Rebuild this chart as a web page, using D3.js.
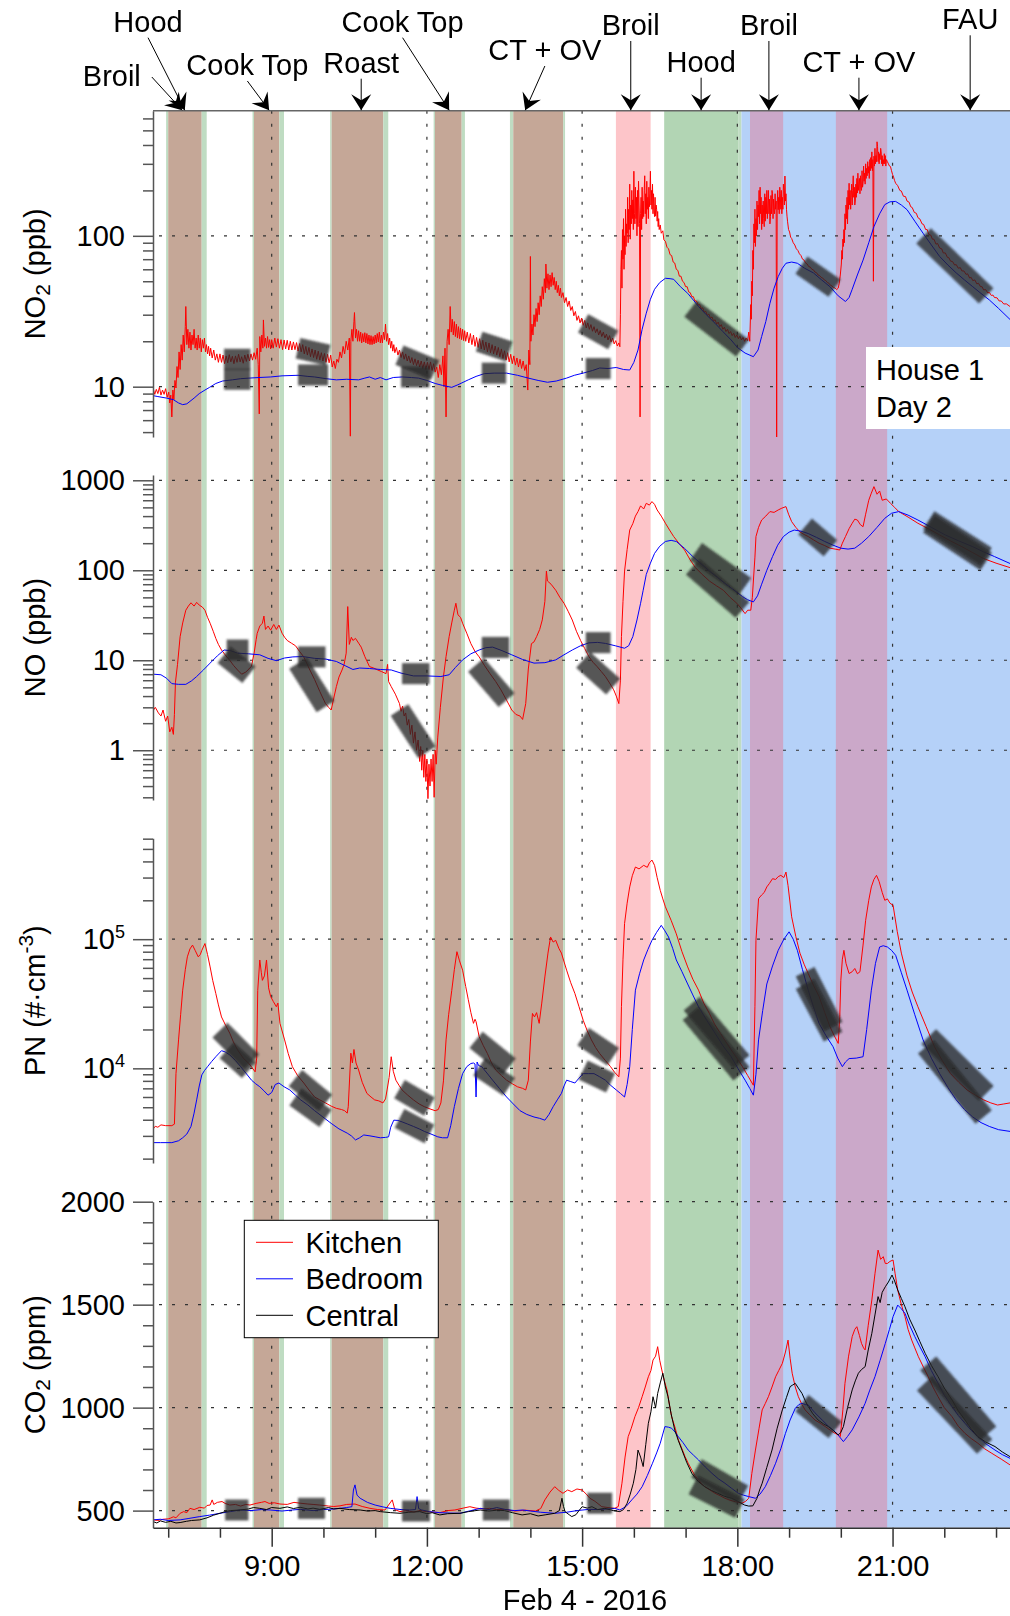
<!DOCTYPE html>
<html><head><meta charset="utf-8">
<script src="https://cdnjs.cloudflare.com/ajax/libs/d3/7.8.5/d3.min.js"></script>
<style>
body{margin:0;background:#fff}
svg{display:block}
text{font-family:"Liberation Sans",Arial,Helvetica,sans-serif;fill:#000}
</style></head>
<body><svg id="c" width="1010" height="1616"></svg>
<script>
// ---------------- DATA (time in decimal hours, Feb 4 2016) ----------------
const xDomain = [6.706, 23.27];
const majorHours = [9, 12, 15, 18, 21];
const minorHours = [7, 8, 10, 11, 13, 14, 16, 17, 19, 20, 22, 23];
const xTitle = "Feb 4 - 2016";

const no2Range = [4.64, 675];
const noRange = [0.28, 1145];
const pnRange = [1850, 6.04e5];
const co2Range = [417, 2000];
const co2Major = [500, 1000, 1500, 2000];

const seriesNames = ["Kitchen", "Bedroom", "Central"];

// background event bands: [start, end, kind]
const bands = [
 [6.96,7.0,"edge"],[7.0,7.647,"brown"],[7.647,7.744,"edge"],
 [8.63,8.658,"edge"],[8.658,9.147,"brown"],[9.147,9.238,"edge"],
 [10.13,10.159,"edge"],[10.159,11.157,"brown"],[11.157,11.253,"edge"],
 [12.13,12.156,"edge"],[12.156,12.672,"brown"],[12.672,12.735,"edge"],
 [13.605,13.669,"edge"],[13.669,14.635,"brown"],[14.635,14.67,"edge"],
 [15.653,16.324,"pink"],
 [16.586,18.016,"green"],
 [18.016,18.08,"edge"],
 [18.08,23.4,"blue"],
 [18.245,18.886,"purple"],
 [19.904,20.896,"purple"]
];

// event annotations
const annLabels = ["Broil","Hood","Cook Top","Roast","Cook Top","CT + OV","Broil","Hood","Broil","CT + OV","FAU"];
const annTargets = [7.27,7.32,8.95,10.73,12.43,13.9,15.94,17.3,18.61,20.35,22.5];

// NO2 (ppb)
const no2Kitchen = [[6.65,9.8],[6.68,9.1],[6.71,9.7],[6.74,8.9],[6.77,9.6],[6.8,9.0],[6.83,9.9],[6.86,8.8],[6.89,9.5],[6.92,8.9],[6.95,9.7],[6.98,8.5],[7.01,9.2],[7.03,7.8],[7.05,8.8],[7.07,6.3],[7.09,9.5],[7.11,8.2],[7.13,11],[7.15,9.8],[7.17,13.6],[7.19,11.5],[7.21,17],[7.23,13],[7.25,19],[7.27,15],[7.29,22],[7.31,17],[7.33,25],[7.34,34],[7.36,19],[7.38,24],[7.4,18],[7.42,23],[7.44,17.5],[7.46,22],[7.48,19],[7.5,24],[7.52,18],[7.54,21],[7.56,17.5],[7.58,22],[7.6,18],[7.62,21],[7.64,17],[7.66,20.5],[7.68,18],[7.7,21],[7.72,17],[7.74,19],[7.76,16.5],[7.78,18.5],[7.8,16],[7.82,18],[7.85,15.5],[7.88,17.5],[7.91,15],[7.94,16.5],[7.97,14.5],[8.0,16.5],[8.03,14.5],[8.06,16.2],[8.09,14.2],[8.12,16],[8.15,14.4],[8.18,16.3],[8.21,14.6],[8.24,15.9],[8.27,14.2],[8.3,16],[8.33,14.5],[8.36,16.4],[8.39,14.6],[8.42,15.8],[8.45,14.3],[8.48,16.2],[8.51,14.7],[8.54,16.4],[8.57,14.8],[8.6,16.5],[8.63,15],[8.66,16.8],[8.69,15.2],[8.72,18],[8.74,14],[8.76,6.6],[8.77,21.5],[8.79,17],[8.81,22],[8.83,18],[8.84,27.7],[8.86,18.5],[8.88,21],[8.9,18],[8.92,21.5],[8.94,18.2],[8.96,20.5],[8.98,17.8],[9.0,20.5],[9.03,18],[9.06,21],[9.09,18.3],[9.12,20.8],[9.15,18],[9.18,20.5],[9.21,17.6],[9.24,20.4],[9.27,17.8],[9.3,20.3],[9.33,17.5],[9.36,20],[9.39,17.5],[9.42,19.8],[9.45,17.6],[9.48,19.6],[9.51,17.2],[9.54,19.3],[9.57,17],[9.6,19],[9.63,16.5],[9.66,18.5],[9.69,16.2],[9.72,18.2],[9.75,15.8],[9.78,17.8],[9.81,15.6],[9.84,17.5],[9.87,15.2],[9.9,17.2],[9.93,15],[9.96,16.8],[9.99,14.8],[10.02,16.6],[10.05,14.5],[10.08,16.4],[10.11,14.4],[10.14,16.2],[10.17,13.5],[10.2,14.8],[10.23,13.2],[10.26,15.2],[10.29,14.5],[10.32,17],[10.35,15.5],[10.38,18.5],[10.41,16.5],[10.44,20],[10.47,17.5],[10.5,21],[10.52,4.7],[10.53,20],[10.55,24],[10.57,20],[10.59,27],[10.6,31],[10.62,21],[10.64,24],[10.66,20],[10.68,23.5],[10.7,20],[10.72,23],[10.74,19.5],[10.76,22.5],[10.78,19.8],[10.8,22.8],[10.82,19.5],[10.84,22.5],[10.86,19.2],[10.88,22],[10.9,19],[10.92,21.8],[10.94,19],[10.96,21.5],[10.98,19.2],[11.0,22],[11.02,19.5],[11.04,22.5],[11.06,19.8],[11.08,23],[11.1,19.5],[11.12,22],[11.14,19.5],[11.16,23],[11.18,20.5],[11.2,26],[11.22,20],[11.24,22.5],[11.26,19],[11.28,21],[11.3,18],[11.32,20],[11.34,17.2],[11.36,19],[11.38,16.8],[11.41,18.2],[11.44,16.2],[11.47,17.5],[11.5,15.6],[11.53,17],[11.56,15.2],[11.59,16.5],[11.62,14.8],[11.65,16],[11.68,14.4],[11.71,15.6],[11.74,14],[11.77,15.3],[11.8,13.8],[11.83,15],[11.86,13.5],[11.89,14.8],[11.92,13.2],[11.95,14.6],[11.98,13],[12.01,14.5],[12.04,13],[12.07,14.6],[12.1,12.8],[12.13,14.2],[12.16,12.5],[12.19,13.5],[12.22,11.5],[12.25,14],[12.28,12],[12.31,16],[12.33,10],[12.35,18],[12.37,6.3],[12.39,20],[12.41,24],[12.43,19],[12.45,34],[12.47,23],[12.49,28],[12.51,22],[12.53,27],[12.55,21.5],[12.57,26],[12.59,21],[12.61,25],[12.63,20.8],[12.65,24.5],[12.67,20.5],[12.69,24],[12.71,20.2],[12.73,23.5],[12.75,20],[12.78,23],[12.81,19.5],[12.84,22.5],[12.87,19],[12.9,22],[12.93,18.5],[12.96,21.2],[12.99,18.2],[13.02,20.8],[13.05,17.8],[13.08,20.3],[13.11,17.5],[13.14,19.8],[13.17,17],[13.2,19.5],[13.23,16.8],[13.26,19],[13.29,16.5],[13.32,18.6],[13.35,16.2],[13.38,18.2],[13.41,15.8],[13.44,17.8],[13.47,15.4],[13.5,17.3],[13.53,15],[13.56,16.8],[13.59,14.6],[13.62,16.4],[13.65,14.2],[13.68,16],[13.71,13.9],[13.74,15.5],[13.77,13.5],[13.8,15.2],[13.83,13.2],[13.86,14.8],[13.89,12.8],[13.92,14],[13.95,9.5],[13.97,17.5],[13.99,14],[14.0,73],[14.01,20],[14.03,26],[14.05,22],[14.07,30],[14.09,25],[14.11,33],[14.13,27],[14.15,36],[14.17,30],[14.19,40],[14.21,34],[14.23,46],[14.25,38],[14.27,52],[14.29,42],[14.3,65],[14.32,45],[14.34,56],[14.36,44],[14.38,55],[14.4,46],[14.42,57],[14.44,47],[14.46,53],[14.48,44],[14.5,50],[14.52,42],[14.54,47],[14.56,40],[14.58,45],[14.6,39],[14.63,42],[14.66,36],[14.69,39],[14.72,34],[14.75,37],[14.78,32],[14.81,34],[14.84,29.5],[14.87,31.5],[14.9,27.5],[14.93,29.5],[14.96,26.5],[14.99,28.5],[15.02,25.5],[15.05,27.5],[15.08,24.5],[15.11,26.5],[15.14,24],[15.17,25.8],[15.2,23.3],[15.23,25],[15.26,22.8],[15.29,24.2],[15.32,22],[15.35,23.6],[15.38,21.5],[15.41,23],[15.44,21],[15.47,22.3],[15.5,20.4],[15.53,21.8],[15.56,19.8],[15.59,21],[15.62,19.2],[15.65,20.2],[15.68,18.6],[15.71,19.5],[15.73,18.4],[15.74,30],[15.75,60],[15.76,80],[15.77,45],[15.78,110],[15.79,70],[15.8,130],[15.81,60],[15.82,100],[15.83,75],[15.84,150],[15.85,85],[15.86,120],[15.87,104],[15.88,180],[15.89,90],[15.9,150],[15.91,110],[15.92,220],[15.93,95],[15.94,160],[15.95,120],[15.96,200],[15.97,130],[15.98,173],[15.99,110],[16.0,268],[16.01,140],[16.02,120],[16.03,210],[16.04,130],[16.05,180],[16.06,100],[16.07,200],[16.08,115],[16.09,230],[16.1,160],[16.11,120],[16.12,6.3],[16.13,140],[16.14,180],[16.15,110],[16.16,210],[16.17,130],[16.18,170],[16.19,134],[16.2,200],[16.21,250],[16.22,140],[16.23,190],[16.24,120],[16.25,230],[16.26,150],[16.27,180],[16.28,130],[16.29,210],[16.3,156],[16.31,190],[16.32,268],[16.33,160],[16.34,200],[16.35,150],[16.36,220],[16.37,140],[16.38,190],[16.39,150],[16.4,134],[16.41,180],[16.42,135],[16.43,160],[16.44,150],[16.45,125],[16.46,145],[16.47,115],[16.48,130],[16.49,110],[16.51,118],[16.53,104],[16.56,108],[16.58,94],[16.61,92],[16.64,84],[16.67,82],[16.7,75],[16.73,74],[16.76,67],[16.79,66],[16.82,60],[16.85,59],[16.88,54],[16.91,54],[16.94,50],[16.97,49],[17.0,46],[17.03,46],[17.06,42.5],[17.09,42],[17.12,39.5],[17.15,39.5],[17.18,37],[17.21,37],[17.24,34.8],[17.27,35],[17.3,33],[17.33,33.3],[17.36,31.2],[17.39,31.6],[17.42,29.7],[17.45,30.3],[17.48,28.4],[17.51,29],[17.54,27.2],[17.57,27.8],[17.6,26],[17.63,26.8],[17.66,25],[17.69,25.8],[17.72,24],[17.75,24.8],[17.78,23.2],[17.81,24],[17.84,22.5],[17.87,23.2],[17.9,21.8],[17.93,22.6],[17.96,21.2],[17.99,22],[18.02,20.8],[18.05,21.6],[18.08,20.4],[18.11,21.2],[18.14,20],[18.17,21],[18.2,20.2],[18.22,23],[18.24,20],[18.26,35],[18.27,28],[18.28,50],[18.29,40],[18.3,80],[18.31,60],[18.32,120],[18.33,90],[18.34,150],[18.35,85],[18.36,130],[18.37,100],[18.38,170],[18.39,110],[18.4,160],[18.41,134],[18.42,200],[18.43,120],[18.44,210],[18.45,140],[18.46,180],[18.47,110],[18.48,160],[18.49,120],[18.5,170],[18.51,130],[18.52,115],[18.53,190],[18.54,125],[18.55,180],[18.56,140],[18.57,200],[18.58,130],[18.59,160],[18.6,200],[18.61,140],[18.62,175],[18.63,120],[18.64,134],[18.65,185],[18.66,140],[18.67,200],[18.68,190],[18.69,130],[18.7,175],[18.71,150],[18.72,140],[18.73,190],[18.74,150],[18.75,170],[18.76,4.6],[18.77,160],[18.78,200],[18.79,149],[18.8,180],[18.81,140],[18.82,210],[18.83,190],[18.84,150],[18.85,200],[18.86,140],[18.87,180],[18.88,150],[18.89,220],[18.9,200],[18.91,160],[18.92,249],[18.93,170],[18.94,190],[18.95,150],[18.96,135],[18.97,125],[18.99,110],[19.01,106],[19.03,98],[19.05,96],[19.08,90],[19.11,87],[19.14,82],[19.17,80],[19.2,76],[19.23,74],[19.26,70],[19.29,69],[19.32,66],[19.35,65],[19.38,62.5],[19.41,62],[19.44,60],[19.47,59.5],[19.5,57.5],[19.53,57],[19.56,55],[19.59,54.5],[19.62,53],[19.65,52.5],[19.68,51],[19.71,50.5],[19.74,49],[19.77,48.5],[19.8,47],[19.83,46.5],[19.86,45.5],[19.89,45],[19.92,44],[19.95,45],[19.97,48.5],[19.99,55],[20.01,65],[20.02,80],[20.03,70],[20.04,95],[20.05,85],[20.06,110],[20.07,90],[20.08,140],[20.09,110],[20.1,160],[20.11,130],[20.12,180],[20.13,120],[20.14,200],[20.15,150],[20.16,223],[20.17,160],[20.18,200],[20.19,150],[20.2,180],[20.21,220],[20.22,160],[20.23,200],[20.24,250],[20.25,180],[20.26,210],[20.27,160],[20.28,170],[20.29,220],[20.3,180],[20.31,240],[20.32,192],[20.33,260],[20.34,200],[20.35,230],[20.36,240],[20.37,190],[20.38,250],[20.39,210],[20.4,200],[20.41,270],[20.42,210],[20.43,223],[20.44,290],[20.45,230],[20.46,260],[20.47,220],[20.48,300],[20.49,240],[20.5,280],[20.51,250],[20.52,310],[20.53,260],[20.54,288],[20.55,240],[20.56,320],[20.57,270],[20.58,330],[20.59,280],[20.6,360],[20.61,270],[20.62,320],[20.63,50],[20.64,337],[20.65,290],[20.66,380],[20.67,300],[20.68,340],[20.69,310],[20.7,420],[20.71,390],[20.72,310],[20.73,360],[20.74,300],[20.75,350],[20.76,320],[20.77,380],[20.78,360],[20.79,300],[20.8,340],[20.81,290],[20.82,320],[20.83,300],[20.84,350],[20.85,300],[20.86,340],[20.87,290],[20.88,320],[20.9,310],[20.92,300],[20.94,290],[20.96,288],[20.98,270],[21.0,255],[21.02,245],[21.04,232],[21.06,223],[21.1,215],[21.14,200],[21.17,198],[21.21,183],[21.25,182],[21.28,170],[21.32,167],[21.35,156],[21.38,154],[21.42,143],[21.46,141],[21.49,132],[21.53,129],[21.57,120],[21.6,119],[21.64,110],[21.67,110],[21.7,102],[21.74,101],[21.77,95],[21.8,95],[21.84,88],[21.87,89],[21.91,83],[21.95,82],[21.98,77],[22.02,77],[22.06,72],[22.09,71.5],[22.12,68],[22.16,67.5],[22.2,64],[22.23,64.5],[22.27,61],[22.31,61.5],[22.34,58.5],[22.38,58.5],[22.42,55.5],[22.45,56],[22.49,52.5],[22.52,53],[22.55,50.5],[22.59,51],[22.63,48],[22.66,48.5],[22.7,46],[22.73,46],[22.76,43.8],[22.8,44],[22.84,41.8],[22.87,42.2],[22.91,40.2],[22.94,40.5],[22.97,39],[23.02,38.8],[23.06,37],[23.1,37],[23.15,35.3],[23.2,35.4],[23.27,34]];
const no2Bedroom = [[6.65,8.8],[6.8,8.6],[6.97,8.4],[7.1,8.2],[7.2,7.8],[7.28,7.6],[7.36,7.7],[7.5,8.4],[7.6,9.0],[7.71,9.5],[7.8,9.9],[7.92,10.5],[8.05,10.9],[8.24,11.1],[8.4,11.3],[8.56,11.4],[8.75,11.5],[8.98,11.6],[9.2,11.8],[9.51,11.9],[9.7,11.7],[9.83,11.6],[10.05,11.3],[10.25,11.1],[10.45,11.2],[10.68,11.1],[10.8,11.4],[10.89,11.6],[11.0,11.2],[11.1,11.5],[11.21,11.1],[11.35,11.5],[11.52,11.6],[11.7,11.5],[11.84,11.4],[12.0,11.0],[12.16,10.5],[12.3,10.2],[12.48,9.9],[12.6,10.3],[12.8,11.1],[12.95,11.7],[13.11,12.2],[13.3,12.3],[13.54,12.3],[13.75,11.9],[13.96,11.4],[14.15,11.0],[14.33,10.7],[14.5,10.9],[14.7,11.4],[14.85,11.9],[15.02,12.3],[15.2,12.8],[15.34,13.3],[15.5,13.2],[15.66,13.4],[15.8,13.0],[15.92,12.9],[16.0,14.5],[16.08,17.5],[16.16,24],[16.24,30.7],[16.32,38],[16.4,44.2],[16.5,49],[16.61,52.3],[16.7,52],[16.77,51.5],[16.9,46],[17.04,41.6],[17.15,37.5],[17.25,34],[17.4,30],[17.57,26.3],[17.72,23.2],[17.88,20.4],[18.0,18.2],[18.15,16.7],[18.31,15.8],[18.4,17.5],[18.47,21.5],[18.55,27],[18.63,35.7],[18.71,45],[18.79,53.7],[18.87,61],[18.94,65.8],[19.05,67],[19.16,65.8],[19.3,61],[19.47,56.8],[19.63,51],[19.79,46],[19.95,40],[20.09,36.7],[20.16,39],[20.22,44.2],[20.32,55],[20.43,69],[20.54,90],[20.64,115],[20.75,140],[20.85,161],[20.95,168],[21.06,169],[21.17,160],[21.28,149],[21.43,125],[21.59,104],[21.75,87],[21.91,73],[22.07,64],[22.23,56.8],[22.39,51],[22.55,46],[22.71,41.5],[22.87,37.6],[23.05,33],[23.27,27.9]];
// NO (ppb)
const noKitchen = [[6.65,3.2],[6.7,2.7],[6.75,3.0],[6.81,2.6],[6.86,2.4],[6.9,2.8],[6.95,2.1],[6.99,2.4],[7.03,1.6],[7.07,1.8],[7.1,1.5],[7.12,2.5],[7.14,5.7],[7.18,9],[7.23,18.3],[7.28,26],[7.34,36],[7.39,40],[7.44,43.5],[7.5,40],[7.55,44],[7.6,41],[7.66,39],[7.71,36],[7.76,30],[7.81,25.8],[7.87,21],[7.92,17.5],[7.97,15],[8.03,13],[8.1,11.5],[8.19,10],[8.26,8.8],[8.34,7.8],[8.42,7.0],[8.5,7.4],[8.56,8.0],[8.61,8.6],[8.66,12],[8.7,17],[8.72,19.9],[8.77,24],[8.82,25.8],[8.85,31],[8.88,22],[8.93,24],[8.98,21.6],[9.04,25],[9.09,22],[9.14,24.6],[9.2,20],[9.25,18],[9.3,16.6],[9.38,15.5],[9.46,14.5],[9.54,12.5],[9.62,10.9],[9.72,8.2],[9.83,6.1],[9.93,4.5],[10.04,3.3],[10.1,3.0],[10.15,2.8],[10.2,3.8],[10.25,5.1],[10.3,6.5],[10.36,7.8],[10.4,9],[10.44,12],[10.47,39.5],[10.5,15],[10.54,18],[10.57,16.6],[10.62,17.5],[10.68,15.5],[10.73,14],[10.8,11],[10.89,8.5],[10.97,8.2],[11.05,7.8],[11.12,7.5],[11.21,7.1],[11.24,9],[11.26,5.8],[11.31,5.1],[11.39,4.2],[11.47,3.3],[11.5,2.7],[11.53,3.1],[11.56,2.4],[11.59,2.6],[11.62,1.9],[11.65,2.2],[11.68,1.5],[11.71,1.9],[11.74,1.2],[11.77,1.6],[11.8,1.0],[11.83,1.3],[11.86,0.75],[11.88,1.1],[11.9,0.6],[11.92,1.0],[11.94,0.5],[11.96,0.9],[11.98,0.45],[12.0,0.8],[12.02,0.29],[12.04,0.7],[12.06,0.4],[12.08,0.8],[12.1,0.45],[12.12,0.9],[12.14,0.3],[12.16,1.0],[12.18,0.7],[12.21,1.4],[12.26,3],[12.32,6.6],[12.37,11],[12.43,18.3],[12.48,26],[12.53,36],[12.56,43],[12.6,32],[12.65,30],[12.69,25.8],[12.77,20],[12.85,15.3],[12.93,12.5],[13.01,10.9],[13.11,8.8],[13.22,7.1],[13.33,5.8],[13.43,4.7],[13.54,3.6],[13.64,2.8],[13.72,2.5],[13.8,2.4],[13.85,2.2],[13.91,3.3],[13.96,8],[14.02,15.3],[14.07,16],[14.12,18.3],[14.18,22],[14.23,28.1],[14.28,45],[14.31,98],[14.33,76],[14.4,70],[14.49,60],[14.57,50],[14.65,43],[14.73,35],[14.81,28],[14.89,21],[14.97,16.6],[15.05,13.5],[15.13,11],[15.21,9.5],[15.29,8.5],[15.37,7.5],[15.45,6.6],[15.53,5.6],[15.61,4.7],[15.66,4.0],[15.71,3.3],[15.74,6],[15.76,18.3],[15.79,45],[15.82,98],[15.87,170],[15.92,280],[15.98,330],[16.03,400],[16.08,449],[16.13,520],[16.19,480],[16.24,555],[16.3,530],[16.35,580],[16.4,540],[16.45,468],[16.53,400],[16.61,333],[16.69,280],[16.77,237],[16.87,200],[16.98,168],[17.09,130],[17.19,107],[17.32,90],[17.46,76],[17.6,67],[17.73,60],[17.86,50],[17.99,43],[18.07,38],[18.15,33],[18.2,36],[18.26,36],[18.29,50],[18.31,76],[18.34,140],[18.36,237],[18.41,300],[18.47,362],[18.55,400],[18.63,449],[18.71,440],[18.79,468],[18.86,490],[18.94,510],[18.99,420],[19.05,347],[19.13,300],[19.21,267],[19.29,250],[19.37,237],[19.47,218],[19.58,200],[19.69,188],[19.79,176],[19.89,172],[19.98,168],[20.03,200],[20.09,237],[20.16,290],[20.22,333],[20.27,370],[20.32,362],[20.38,320],[20.43,305],[20.48,420],[20.54,600],[20.59,720],[20.64,850],[20.7,700],[20.75,760],[20.8,600],[20.88,620],[20.96,555],[21.04,500],[21.12,449],[21.3,390],[21.49,333],[21.7,288],[21.91,247],[22.12,212],[22.34,183],[22.55,157],[22.76,135],[23.0,120],[23.27,107]];
const noBedroom = [[6.65,7.05],[6.86,6.9],[6.97,6.3],[7.07,5.5],[7.2,5.4],[7.34,5.4],[7.45,5.9],[7.55,6.6],[7.68,7.8],[7.81,9.3],[7.95,11.2],[8.08,13],[8.2,12.8],[8.34,12],[8.55,11.8],[8.77,11.5],[8.93,10.5],[9.09,9.9],[9.25,10.6],[9.41,10.9],[9.6,11.0],[9.83,10.5],[10.05,10.3],[10.25,9.7],[10.42,8.7],[10.57,7.9],[10.7,8.2],[10.89,8.1],[11.1,7.9],[11.31,7.8],[11.5,7.2],[11.74,6.7],[12.0,6.7],[12.27,6.6],[12.43,6.9],[12.55,8.3],[12.69,10.1],[12.85,11.8],[13.01,13],[13.14,13.8],[13.27,14],[13.45,12.8],[13.64,11.5],[13.85,10.2],[14.07,9.3],[14.28,9.4],[14.49,10.1],[14.65,11.5],[14.81,13],[14.97,14.5],[15.13,15.6],[15.3,15.8],[15.45,15.4],[15.64,14.5],[15.82,13.6],[15.9,14.5],[15.98,18.3],[16.06,28],[16.13,43],[16.18,60],[16.24,90],[16.32,120],[16.4,154],[16.5,185],[16.61,209],[16.72,215],[16.82,209],[16.98,175],[17.14,142],[17.3,118],[17.46,98],[17.62,83],[17.78,70],[17.94,60],[18.1,51],[18.2,47],[18.31,44.5],[18.39,52],[18.47,70],[18.57,100],[18.68,142],[18.78,190],[18.89,237],[19.0,265],[19.1,280],[19.23,272],[19.37,256],[19.53,232],[19.69,209],[19.85,190],[20.0,176],[20.14,172],[20.27,176],[20.4,200],[20.54,237],[20.7,300],[20.85,378],[20.98,430],[21.12,449],[21.3,410],[21.49,362],[21.75,300],[22.02,247],[22.28,212],[22.55,183],[22.76,160],[22.97,142],[23.27,119]];
// PN (#/cm3)
const pnKitchen = [[6.65,3.44e3],[6.7,3.35e3],[6.75,3.56e3],[6.8,3.5e3],[6.86,3.65e3],[6.95,3.6e3],[7.07,3.6e3],[7.12,3.7e3],[7.15,9.1e3],[7.2,1.66e4],[7.24,2.6e4],[7.28,4.03e4],[7.33,5.8e4],[7.37,7.3e4],[7.42,8.4e4],[7.47,9e4],[7.52,8.2e4],[7.58,7.3e4],[7.62,7.6e4],[7.65,8.2e4],[7.71,9.25e4],[7.76,7.6e4],[7.81,6.1e4],[7.86,4.8e4],[7.92,3.8e4],[7.97,3.1e4],[8.03,2.5e4],[8.11,2.15e4],[8.19,1.87e4],[8.26,1.6e4],[8.34,1.39e4],[8.45,1.2e4],[8.56,1.09e4],[8.68,9.4e3],[8.71,1.2e4],[8.73,4.0e4],[8.77,6.9e4],[8.8,5.5e4],[8.82,4.8e4],[8.86,5.2e4],[8.9,6.9e4],[8.94,4.2e4],[8.98,3.6e4],[9.03,3.3e4],[9.09,3.0e4],[9.12,3.2e4],[9.16,2.23e4],[9.25,1.66e4],[9.32,1.3e4],[9.4,1.03e4],[9.5,8.8e3],[9.62,7.7e3],[9.72,6.8e3],[9.83,6.0e3],[9.93,5.7e3],[10.04,5.4e3],[10.15,5.1e3],[10.25,4.9e3],[10.35,4.8e3],[10.41,4.7e3],[10.46,4.5e3],[10.48,5.05e3],[10.53,1.31e4],[10.56,1.1e4],[10.59,1.4e4],[10.63,1.1e4],[10.68,9.7e3],[10.75,7.8e3],[10.84,6.4e3],[10.92,6.0e3],[10.99,5.7e3],[11.07,5.6e3],[11.15,5.4e3],[11.2,5.8e3],[11.23,6.8e3],[11.27,8.5e3],[11.31,1.23e4],[11.35,9.5e3],[11.4,8.1e3],[11.46,7.4e3],[11.52,6.8e3],[11.63,6.2e3],[11.74,5.7e3],[11.85,5.3e3],[11.95,5.05e3],[12.06,4.85e3],[12.16,4.7e3],[12.22,4.8e3],[12.27,5.4e3],[12.32,8e3],[12.37,1.66e4],[12.42,2.6e4],[12.48,4.0e4],[12.53,5.8e4],[12.58,8e4],[12.63,6.8e4],[12.69,5.76e4],[12.75,4.3e4],[12.8,3.4e4],[12.85,2.7e4],[12.9,2.23e4],[12.93,2.4e4],[12.95,2.3e4],[13.01,1.76e4],[13.09,1.5e4],[13.17,1.3e4],[13.25,1.1e4],[13.33,9.7e3],[13.44,8.8e3],[13.54,8.1e3],[13.65,7.6e3],[13.75,7.2e3],[13.85,7.0e3],[13.91,6.8e3],[13.96,8.1e3],[14.0,1.6e4],[14.04,2.66e4],[14.08,2.5e4],[14.12,2.7e4],[14.17,2.23e4],[14.22,3.2e4],[14.28,5.1e4],[14.34,7.8e4],[14.39,1.04e5],[14.44,9.5e4],[14.49,9.8e4],[14.55,8.5e4],[14.6,7.8e4],[14.7,5.76e4],[14.78,4.6e4],[14.86,3.8e4],[14.94,3.0e4],[15.02,2.36e4],[15.1,1.95e4],[15.18,1.66e4],[15.26,1.45e4],[15.34,1.3e4],[15.45,1.15e4],[15.55,1.03e4],[15.63,9.3e3],[15.71,8.6e3],[15.74,1.2e4],[15.76,3.0e4],[15.79,7e4],[15.82,1.32e5],[15.87,1.9e5],[15.92,2.54e5],[15.97,3.1e5],[16.03,3.62e5],[16.1,3.5e5],[16.19,3.73e5],[16.26,3.6e5],[16.3,3.9e5],[16.35,4.1e5],[16.4,3.73e5],[16.45,3.0e5],[16.51,2.39e5],[16.56,2.05e5],[16.61,1.78e5],[16.72,1.4e5],[16.82,1.1e5],[16.93,8e4],[17.04,6.1e4],[17.14,4.9e4],[17.25,4.03e4],[17.35,3.2e4],[17.46,2.66e4],[17.56,2.2e4],[17.67,1.87e4],[17.78,1.6e4],[17.88,1.39e4],[17.99,1.2e4],[18.1,1.03e4],[18.2,8.8e3],[18.31,7.4e3],[18.34,3.0e4],[18.36,9.8e4],[18.41,2.06e5],[18.47,2.2e5],[18.52,2.3e5],[18.57,2.54e5],[18.62,2.7e5],[18.68,2.94e5],[18.74,2.9e5],[18.79,3.05e5],[18.84,3.12e5],[18.9,3.0e5],[18.94,3.31e5],[18.98,2.6e5],[19.05,1.49e5],[19.13,1.05e5],[19.21,7.8e4],[19.29,6.4e4],[19.37,5.42e4],[19.47,4.4e4],[19.58,3.6e4],[19.69,2.7e4],[19.79,2.1e4],[19.87,1.8e4],[19.95,1.56e4],[19.98,2.5e4],[20.0,4.8e4],[20.03,7e4],[20.06,8.2e4],[20.1,6.5e4],[20.16,5.42e4],[20.22,5.6e4],[20.27,5.93e4],[20.32,5.4e4],[20.37,5.6e4],[20.43,9e4],[20.48,1.4e5],[20.54,2.0e5],[20.59,2.54e5],[20.64,2.9e5],[20.69,3.12e5],[20.74,2.8e5],[20.8,2.3e5],[20.85,2.0e5],[20.9,2.05e5],[20.95,1.9e5],[21.01,1.83e5],[21.09,1.15e5],[21.17,7.8e4],[21.28,5.2e4],[21.38,3.9e4],[21.49,3.0e4],[21.65,2.1e4],[21.81,1.47e4],[21.96,1.15e4],[22.12,9.1e3],[22.28,7.8e3],[22.44,6.8e3],[22.6,6.2e3],[22.76,5.7e3],[22.9,5.4e3],[23.03,5.2e3],[23.15,5.3e3],[23.27,5.4e3]];
const pnBedroom = [[6.65,2.66e3],[6.85,2.66e3],[7.07,2.66e3],[7.2,2.75e3],[7.28,2.9e3],[7.36,3.1e3],[7.44,3.55e3],[7.5,4.5e3],[7.55,5.7e3],[7.6,7.3e3],[7.65,8.9e3],[7.7,9.6e3],[7.76,1.03e4],[7.84,1.13e4],[7.92,1.23e4],[8.03,1.37e4],[8.1,1.34e4],[8.19,1.27e4],[8.3,1.15e4],[8.4,1.03e4],[8.5,9.2e3],[8.61,8.1e3],[8.69,7.6e3],[8.77,7.2e3],[8.85,6.7e3],[8.93,6.2e3],[9.0,6.5e3],[9.07,7.5e3],[9.14,7.7e3],[9.24,7.2e3],[9.35,6.8e3],[9.46,6.2e3],[9.56,5.7e3],[9.7,5.2e3],[9.83,4.7e3],[9.99,4.2e3],[10.15,3.75e3],[10.3,3.4e3],[10.46,3.15e3],[10.54,3.0e3],[10.62,2.79e3],[10.7,2.9e3],[10.78,3.05e3],[10.9,3.0e3],[11.0,2.95e3],[11.1,2.9e3],[11.2,2.92e3],[11.26,2.95e3],[11.3,3.5e3],[11.36,3.97e3],[11.44,3.95e3],[11.52,3.85e3],[11.63,3.7e3],[11.74,3.55e3],[11.85,3.4e3],[11.95,3.25e3],[12.08,3.1e3],[12.21,2.95e3],[12.3,2.9e3],[12.4,2.9e3],[12.46,3.6e3],[12.53,5.05e3],[12.61,7e3],[12.69,9.1e3],[12.77,1.03e4],[12.85,1.09e4],[12.9,1.1e4],[12.93,1.08e4],[12.95,6.0e3],[12.97,1.12e4],[13.0,1.05e4],[13.06,1.03e4],[13.16,9.2e3],[13.27,8.1e3],[13.4,7.0e3],[13.54,6.0e3],[13.67,5.3e3],[13.8,4.7e3],[13.93,4.4e3],[14.07,4.2e3],[14.18,4.1e3],[14.28,3.97e3],[14.36,4.4e3],[14.44,5.05e3],[14.52,5.7e3],[14.6,6.4e3],[14.65,7.3e3],[14.7,8.1e3],[14.78,7.9e3],[14.86,7.7e3],[14.94,8.4e3],[15.02,9.1e3],[15.12,9.1e3],[15.23,9.1e3],[15.34,8.6e3],[15.45,8.1e3],[15.55,7.4e3],[15.66,6.8e3],[15.74,6.4e3],[15.82,6.0e3],[15.87,7.5e3],[15.92,1.03e4],[15.97,2.0e4],[16.03,4.03e4],[16.11,5.4e4],[16.19,6.9e4],[16.27,8.3e4],[16.35,9.8e4],[16.44,1.13e5],[16.53,1.28e5],[16.6,1.16e5],[16.67,1.04e5],[16.75,8.5e4],[16.82,6.9e4],[16.93,5.6e4],[17.04,4.5e4],[17.14,3.7e4],[17.25,3.0e4],[17.41,2.35e4],[17.57,1.87e4],[17.72,1.5e4],[17.88,1.23e4],[18.01,1.0e4],[18.15,8.1e3],[18.24,7e3],[18.31,6.2e3],[18.36,9e3],[18.41,1.66e4],[18.49,2.8e4],[18.57,4.5e4],[18.68,6.2e4],[18.79,8.2e4],[18.9,1.0e5],[19.0,1.14e5],[19.08,1.0e5],[19.16,8.2e4],[19.26,5.8e4],[19.37,4.03e4],[19.47,3.0e4],[19.58,2.23e4],[19.71,1.8e4],[19.85,1.47e4],[19.94,1.2e4],[20.03,1.03e4],[20.09,1.12e4],[20.16,1.19e4],[20.3,1.2e4],[20.43,1.23e4],[20.5,2.0e4],[20.59,4.03e4],[20.67,6.5e4],[20.75,8.7e4],[20.82,8.9e4],[20.9,8.7e4],[20.98,8.2e4],[21.06,7.5e4],[21.17,5.5e4],[21.28,4.03e4],[21.43,2.6e4],[21.59,1.66e4],[21.75,1.2e4],[21.91,9.1e3],[22.07,7.1e3],[22.23,5.7e3],[22.39,4.8e3],[22.55,4.2e3],[22.71,3.8e3],[22.87,3.55e3],[23.05,3.35e3],[23.27,3.25e3]];
// CO2 (ppm)
const co2Kitchen = [[6.7,455],[6.8,452],[6.9,458],[7.0,460],[7.04,463],[7.1,470],[7.15,465],[7.23,487],[7.3,495],[7.36,490],[7.42,511],[7.5,505],[7.61,516],[7.7,512],[7.75,525],[7.81,527],[7.85,552],[7.88,530],[7.95,540],[8.04,544],[8.1,535],[8.19,527],[8.3,530],[8.4,522],[8.5,530],[8.58,527],[8.7,535],[8.8,540],[8.87,544],[8.95,535],[9.05,538],[9.16,532],[9.3,530],[9.43,540],[9.55,536],[9.7,532],[9.8,530],[9.93,527],[10.1,522],[10.2,520],[10.32,523],[10.45,530],[10.61,532],[10.75,520],[10.9,511],[11.05,505],[11.19,503],[11.33,552],[11.38,505],[11.48,495],[11.6,500],[11.75,493],[11.86,500],[12.0,495],[12.15,492],[12.25,490],[12.4,500],[12.54,503],[12.7,512],[12.83,519],[12.95,512],[13.1,508],[13.21,511],[13.35,505],[13.5,506],[13.7,498],[13.9,502],[14.1,498],[14.2,510],[14.28,552],[14.38,590],[14.47,616],[14.55,598],[14.63,584],[14.72,600],[14.8,592],[14.9,605],[15.0,600],[15.08,580],[15.15,560],[15.25,545],[15.38,519],[15.5,515],[15.63,511],[15.7,520],[15.77,633],[15.83,760],[15.89,859],[15.95,900],[16.02,956],[16.09,1000],[16.16,1053],[16.22,1100],[16.28,1150],[16.33,1180],[16.37,1231],[16.42,1250],[16.46,1296],[16.5,1230],[16.54,1183],[16.59,1130],[16.64,1086],[16.69,1010],[16.73,956],[16.8,900],[16.86,843],[16.93,800],[16.99,762],[17.05,730],[17.12,697],[17.18,670],[17.25,649],[17.31,630],[17.37,616],[17.47,600],[17.57,584],[17.67,572],[17.76,560],[17.86,550],[17.96,544],[18.03,540],[18.09,536],[18.16,545],[18.22,560],[18.28,680],[18.35,794],[18.42,900],[18.48,989],[18.54,1020],[18.6,1053],[18.67,1100],[18.74,1150],[18.8,1180],[18.87,1215],[18.93,1270],[18.98,1328],[19.02,1240],[19.06,1167],[19.12,1100],[19.18,1053],[19.25,1015],[19.31,989],[19.4,965],[19.5,940],[19.6,925],[19.7,908],[19.8,890],[19.89,875],[19.95,868],[19.99,859],[20.04,990],[20.08,1118],[20.15,1250],[20.22,1345],[20.27,1380],[20.31,1393],[20.36,1350],[20.4,1312],[20.44,1290],[20.47,1280],[20.53,1400],[20.6,1523],[20.66,1650],[20.72,1765],[20.77,1720],[20.82,1733],[20.86,1700],[20.9,1700],[20.95,1710],[21.01,1717],[21.05,1650],[21.1,1571],[21.17,1500],[21.24,1442],[21.3,1380],[21.37,1328],[21.43,1290],[21.5,1247],[21.6,1195],[21.69,1150],[21.78,1100],[21.88,1053],[22.0,1000],[22.15,956],[22.27,910],[22.4,875],[22.52,850],[22.65,827],[22.78,800],[22.92,778],[23.1,750],[23.27,722]];
const co2Bedroom = [[6.7,455],[6.85,458],[7.0,452],[7.23,455],[7.4,462],[7.61,471],[7.8,478],[8.0,487],[8.2,495],[8.39,503],[8.6,500],[8.8,505],[8.97,503],[9.2,498],[9.4,503],[9.55,506],[9.8,500],[10.0,505],[10.2,508],[10.32,511],[10.45,515],[10.55,519],[10.58,600],[10.61,625],[10.65,575],[10.71,560],[10.85,540],[11.0,527],[11.15,518],[11.29,511],[11.5,505],[11.67,503],[11.78,505],[11.81,568],[11.84,510],[11.9,503],[12.05,495],[12.25,490],[12.45,488],[12.64,487],[12.85,500],[13.03,511],[13.2,505],[13.35,515],[13.5,506],[13.7,500],[13.85,503],[14.0,498],[14.2,492],[14.47,487],[14.7,492],[14.9,500],[15.13,506],[15.3,505],[15.5,508],[15.63,511],[15.73,503],[15.85,520],[15.96,552],[16.06,580],[16.16,616],[16.26,670],[16.36,730],[16.44,780],[16.51,827],[16.6,908],[16.67,905],[16.73,900],[16.8,880],[16.86,859],[16.95,830],[17.05,794],[17.15,770],[17.25,746],[17.38,712],[17.51,681],[17.63,655],[17.76,633],[17.89,608],[18.02,584],[18.12,575],[18.22,568],[18.35,560],[18.44,580],[18.54,616],[18.64,670],[18.74,730],[18.84,800],[18.93,875],[19.02,940],[19.12,997],[19.19,1015],[19.25,1021],[19.31,1015],[19.37,1013],[19.5,975],[19.64,940],[19.76,910],[19.89,883],[19.97,860],[20.05,835],[20.13,860],[20.22,892],[20.35,955],[20.47,1021],[20.56,1085],[20.66,1150],[20.76,1230],[20.86,1312],[20.94,1380],[21.01,1442],[21.1,1498],[21.17,1480],[21.24,1458],[21.33,1400],[21.43,1345],[21.53,1295],[21.63,1247],[21.75,1180],[21.88,1118],[22.0,1060],[22.15,1005],[22.27,962],[22.4,924],[22.52,890],[22.65,859],[22.8,825],[22.98,794],[23.12,772],[23.27,754]];
const co2Central = [[6.7,447],[6.78,440],[6.85,450],[6.95,443],[7.05,448],[7.15,440],[7.23,442],[7.35,448],[7.45,452],[7.61,455],[7.75,465],[7.88,478],[8.0,487],[8.1,495],[8.2,500],[8.39,503],[8.55,508],[8.65,515],[8.77,511],[8.9,505],[9.0,515],[9.16,511],[9.3,518],[9.42,510],[9.55,516],[9.7,508],[9.8,512],[9.93,506],[10.1,515],[10.2,508],[10.32,511],[10.5,505],[10.71,503],[10.85,498],[11.0,500],[11.1,495],[11.3,490],[11.48,487],[11.65,492],[11.86,495],[12.0,485],[12.1,490],[12.25,479],[12.4,485],[12.64,487],[12.8,495],[13.03,503],[13.2,498],[13.35,502],[13.5,500],[13.65,490],[13.84,479],[14.0,485],[14.15,474],[14.3,480],[14.47,487],[14.56,500],[14.61,560],[14.64,520],[14.67,495],[14.75,480],[14.8,471],[14.88,480],[14.94,500],[15.0,519],[15.1,512],[15.19,519],[15.3,505],[15.44,511],[15.6,500],[15.73,495],[15.8,505],[15.87,536],[15.93,580],[15.99,633],[16.04,700],[16.08,794],[16.13,760],[16.18,714],[16.23,820],[16.28,924],[16.33,980],[16.37,1053],[16.42,1000],[16.46,1069],[16.51,1120],[16.56,1167],[16.61,1100],[16.66,1053],[16.72,970],[16.79,892],[16.86,840],[16.93,794],[17.02,735],[17.12,681],[17.25,640],[17.37,616],[17.5,598],[17.62,584],[17.75,570],[17.89,560],[18.01,545],[18.14,527],[18.22,522],[18.3,523],[18.38,560],[18.43,600],[18.48,633],[18.57,710],[18.67,794],[18.77,900],[18.87,989],[18.95,1050],[19.02,1102],[19.07,1110],[19.12,1118],[19.18,1095],[19.25,1069],[19.31,1035],[19.37,1005],[19.46,970],[19.56,940],[19.66,922],[19.76,908],[19.86,888],[19.95,867],[20.0,880],[20.05,908],[20.13,1000],[20.22,1086],[20.28,1130],[20.34,1167],[20.4,1185],[20.47,1199],[20.53,1280],[20.6,1361],[20.66,1450],[20.72,1539],[20.76,1510],[20.8,1560],[20.86,1587],[20.92,1610],[20.99,1644],[21.04,1615],[21.1,1571],[21.17,1530],[21.24,1490],[21.33,1430],[21.43,1377],[21.53,1320],[21.63,1264],[21.75,1205],[21.88,1150],[22.0,1095],[22.15,1037],[22.27,985],[22.4,940],[22.52,897],[22.65,859],[22.8,833],[22.98,811],[23.12,785],[23.27,762]];

// decay-fit segments: [t0, v0, t1, v1]
const no2Fits = [[8.08,15.2,8.59,15.2],[8.08,11.2,8.59,11.2],[9.51,18.0,10.09,16.2],[9.51,11.96,10.09,11.96],[11.47,16.2,12.16,12.9],[11.5,11.6,12.05,11.6],[13.01,19.9,13.59,17.1],[13.06,12.3,13.53,12.3],[15.02,26.3,15.6,20.4],[15.07,13.2,15.55,13.2],[17.1,33,18.1,18],[19.24,64,19.88,45],[21.6,100,22.81,40]];
const noFits = [[8.08,11.5,8.56,6.9],[8.13,13,8.55,13],[9.51,9.3,10.04,3.05],[9.51,10.9,10.04,10.9],[11.47,2.8,12.0,0.95],[11.52,7.1,12.05,7.1],[12.95,8.9,13.54,3.6],[13.06,13.9,13.59,13.9],[15.02,10.1,15.6,5.1],[15.07,15.7,15.55,15.7],[17.14,110,18.1,36.3],[17.2,161,18.15,66],[19.31,306,19.8,176],[21.7,362,22.81,142],[21.7,330,22.81,125]];
const pnFits = [[8.0,1.98e4,8.61,1.12e4],[8.13,1.38e4,8.56,9.7e3],[9.46,8.4e3,10.04,5.4e3],[9.46,6.0e3,10.04,4.1e3],[11.47,6.9e3,12.05,5.05e3],[11.47,4.1e3,12.05,3.1e3],[12.95,1.66e4,13.59,1.03e4],[13.01,1.03e4,13.59,7.2e3],[15.02,1.76e4,15.6,1.23e4],[15.02,9.7e3,15.55,7.7e3],[17.12,3.17e4,18.08,1.12e4],[17.1,2.67e4,18.08,9.1e3],[19.31,5.6e4,19.85,2.1e4],[19.31,4.5e4,19.85,1.76e4],[21.7,1.76e4,22.81,6.4e3],[21.65,1.47e4,22.76,4.2e3]];
const co2Fits = [[8.1,503,8.55,503],[9.51,511,10.03,511],[11.52,498,12.06,498],[13.08,503,13.6,503],[15.1,536,15.58,536],[17.21,705,18.11,576],[17.15,625,18.05,511],[19.25,1021,19.89,892],[21.69,1215,22.85,875],[21.62,1118,22.78,811]];

// ---------------- LAYOUT & STYLE ----------------
const plotL = 153, plotR = 1010, plotTop = 110.7, plotBottom = 1527.7;
const FS = 29;
const seriesColor = {Kitchen:"#ff0000", Bedroom:"#0000ff", Central:"#000000"};
const bandColor = {brown:"#c5a797", edge:"#bfdcc2", pink:"#fdc5c9", green:"#b2d5b4", blue:"#b5d1f8", purple:"#cba8c9"};
const annTextT = [5.91,6.61,8.53,10.73,11.53,14.28,15.94,17.3,18.61,20.35,22.5];
const annBase = [86,31.7,75,72.7,31.7,60,35,71.7,35,71.7,29.3];

const svg = d3.select("#c");
const defs = svg.append("defs");
defs.append("filter").attr("id","soft").attr("filterUnits","userSpaceOnUse")
  .attr("x",0).attr("y",0).attr("width",1010).attr("height",1616)
  .append("feGaussianBlur").attr("stdDeviation",1.3);

const x = d3.scaleLinear().domain(xDomain).range([plotL, plotR]);

const panels = [
  {id:"no2", top:110.7, bottom:437, y:d3.scaleLog().domain(no2Range).range([437,110.7]), log:true,
   series:[[no2Kitchen,"Kitchen"],[no2Bedroom,"Bedroom"]], fits:no2Fits, label:[["NO",0],["2",1],[" (ppb)",3]]},
  {id:"no", top:475, bottom:800, y:d3.scaleLog().domain(noRange).range([800,475]), log:true,
   series:[[noKitchen,"Kitchen"],[noBedroom,"Bedroom"]], fits:noFits, label:[["NO (ppb)",0]]},
  {id:"pn", top:838.3, bottom:1163, y:d3.scaleLog().domain(pnRange).range([1163,838.3]), log:true, sup:true,
   series:[[pnKitchen,"Kitchen"],[pnBedroom,"Bedroom"]], fits:pnFits, label:[["PN (#\u00B7cm",0],["-3",2],[")",4]]},
  {id:"co2", top:1201.7, bottom:1527.7, y:d3.scaleLinear().domain(co2Range).range([1527.7,1201.7]), log:false,
   series:[[co2Kitchen,"Kitchen"],[co2Bedroom,"Bedroom"],[co2Central,"Central"]], fits:co2Fits, label:[["CO",0],["2",1],[" (ppm)",3]]}
];

function logTicks(dom){
  const [a,b] = dom, major=[], minor=[];
  for(let e=Math.floor(Math.log10(a)); e<=Math.ceil(Math.log10(b)); e++){
    for(let k=1;k<10;k++){
      const v = k*Math.pow(10,e);
      if(v>=a*1.001 && v<=b*0.995){ (k===1?major:minor).push(v); }
    }
  }
  return {major, minor};
}
panels.forEach(p=>{
  if(p.log){ const t=logTicks(p.y.domain()); p.major=t.major; p.minor=t.minor; }
  else { p.major=co2Major; p.minor=d3.range(600,2000,100).filter(v=>v%500!==0); }
});

// bands
svg.append("g").selectAll("rect").data(bands).join("rect")
  .attr("x",d=>x(d[0])).attr("width",d=>x(d[1])-x(d[0]))
  .attr("y",plotTop).attr("height",plotBottom-plotTop)
  .attr("fill",d=>bandColor[d[2]]);

// vertical grid
svg.append("g").selectAll("line").data(majorHours).join("line")
  .attr("x1",d=>x(d)).attr("x2",d=>x(d)).attr("y1",plotTop).attr("y2",plotBottom)
  .attr("stroke","#333").attr("stroke-width",1.2).attr("stroke-dasharray","3,10");

panels.forEach((p,i)=>{
  svg.append("g").selectAll("line").data(p.major).join("line")
    .attr("x1",plotL+6).attr("x2",plotR).attr("y1",d=>p.y(d)).attr("y2",d=>p.y(d))
    .attr("stroke","#333").attr("stroke-width",1.2).attr("stroke-dasharray","3,10");

  const cid = "clip"+i;
  defs.append("clipPath").attr("id",cid).append("rect")
    .attr("x",plotL).attr("y",p.top).attr("width",plotR-plotL).attr("height",p.bottom-p.top);
  const g = svg.append("g").attr("clip-path",`url(#${cid})`);
  const line = d3.line().x(d=>x(d[0])).y(d=>p.y(d[1]));
  p.series.forEach(([data,name])=>{
    g.append("path").attr("d",line(data)).attr("fill","none")
      .attr("stroke",seriesColor[name]).attr("stroke-width",1).attr("stroke-linejoin","round");
  });
  g.append("g").attr("filter","url(#soft)").selectAll("line").data(p.fits).join("line")
    .attr("x1",d=>x(d[0])).attr("y1",d=>p.y(d[1])).attr("x2",d=>x(d[2])).attr("y2",d=>p.y(d[3]))
    .attr("stroke","#262626").attr("stroke-width",21).attr("opacity",0.78);

  const ag = svg.append("g").attr("transform",`translate(${plotL},0)`).attr("color","#555");
  ag.call(d3.axisLeft(p.y).tickValues(p.major).tickSize(20).tickSizeOuter(0).tickFormat(""));
  ag.append("g").call(d3.axisLeft(p.y).tickValues(p.minor).tickSize(10).tickSizeOuter(0).tickFormat(""))
    .select(".domain").remove();
  ag.selectAll("path,line").attr("stroke-width",1.5);
  p.major.forEach(v=>{
    const t = svg.append("text").attr("x",125).attr("y",p.y(v)+10).attr("text-anchor","end").attr("font-size",FS);
    if(p.sup){
      t.append("tspan").text("10");
      t.append("tspan").attr("font-size",18).attr("dy",-11).text(String(Math.round(Math.log10(v))));
    } else t.text(String(v));
  });
  const cy = (p.top+p.bottom)/2;
  const tt = svg.append("text").attr("transform",`translate(45,${cy}) rotate(-90)`)
    .attr("text-anchor","middle").attr("font-size",FS);
  p.label.forEach(([s,kind])=>{
    const ts = tt.append("tspan").text(s);
    if(kind===1) ts.attr("font-size",21).attr("dy",5);
    else if(kind===2) ts.attr("font-size",21).attr("dy",-12);
    else if(kind===3) ts.attr("dy",-5);
    else if(kind===4) ts.attr("dy",12);
  });
});

// top frame
svg.append("line").attr("x1",plotL).attr("x2",plotR).attr("y1",plotTop).attr("y2",plotTop)
  .attr("stroke","#666").attr("stroke-width",1.5);

// bottom axis
const xg = svg.append("g").attr("transform",`translate(0,${plotBottom})`).attr("color","#333");
xg.call(d3.axisBottom(x).tickValues(majorHours).tickSize(19).tickSizeOuter(0).tickPadding(9).tickFormat(d=>d+":00"));
xg.append("g").call(d3.axisBottom(x).tickValues(minorHours).tickSize(10).tickSizeOuter(0).tickFormat("")).select(".domain").remove();
xg.selectAll("path,line").attr("stroke-width",1.5);
xg.selectAll("text").attr("font-size",FS).attr("font-family",null).attr("fill","#000");
svg.append("text").attr("x",585).attr("y",1610).attr("text-anchor","middle").attr("font-size",FS).text(xTitle);

// annotations
const ag2 = svg.append("g");
annLabels.forEach((lab,i)=>{
  const tx = x(annTextT[i]), ty = annBase[i];
  ag2.append("text").attr("x",tx).attr("y",ty).attr("text-anchor","middle").attr("font-size",FS).text(lab);
  const sx = i===0 ? tx+40 : tx, sy = i===0 ? ty-9 : ty+6;
  const ex = x(annTargets[i]), ey = plotTop-0.5;
  ag2.append("line").attr("x1",sx).attr("y1",sy).attr("x2",ex).attr("y2",ey).attr("stroke","#000").attr("stroke-width",1);
  const ang = Math.atan2(ey-sy, ex-sx)*180/Math.PI;
  ag2.append("path").attr("d","M0,0 L-16,-10 L-10,0 L-16,10 Z").attr("fill","#000")
    .attr("transform",`translate(${ex},${ey}) rotate(${ang})`);
});

// house label
svg.append("rect").attr("x",866).attr("y",347).attr("width",150).attr("height",82).attr("fill","#fff");
svg.append("text").attr("x",876).attr("y",380).attr("font-size",FS).text("House 1");
svg.append("text").attr("x",876).attr("y",417).attr("font-size",FS).text("Day 2");

// legend
const lg = svg.append("g");
lg.append("rect").attr("x",244.3).attr("y",1220.3).attr("width",194).attr("height",117.4)
  .attr("fill","#fff").attr("stroke","#000").attr("stroke-width",1);
seriesNames.forEach((n,i)=>{
  const yy = 1242.3 + i*36.5;
  lg.append("line").attr("x1",256).attr("x2",293).attr("y1",yy).attr("y2",yy).attr("stroke",seriesColor[n]).attr("stroke-width",1);
  lg.append("text").attr("x",305.5).attr("y",yy+10.5).attr("font-size",FS).text(n);
});
</script></body></html>
